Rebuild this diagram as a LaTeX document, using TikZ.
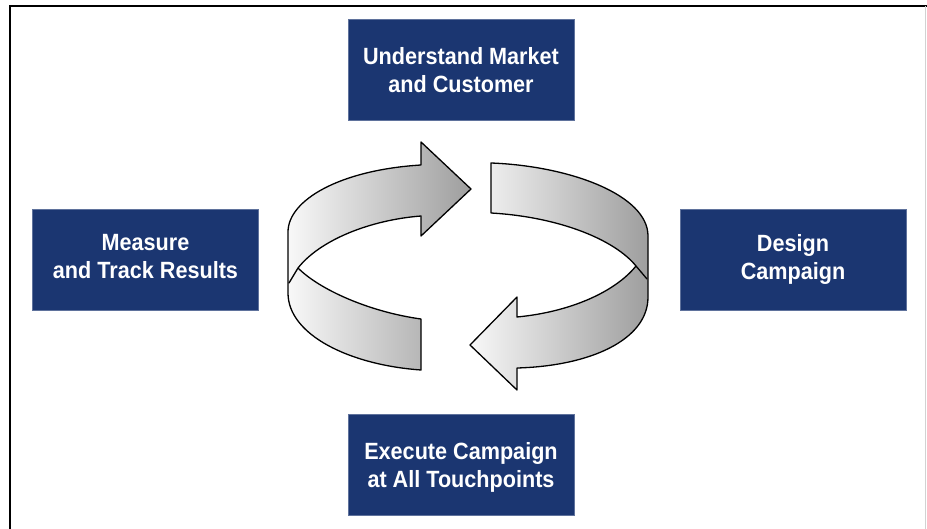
\documentclass[tikz,border=0pt]{standalone}
\usepackage{fontspec}
\newfontfamily\boxfont[FakeStretch=0.92]{Liberation Sans}
\definecolor{navy}{RGB}{27,54,113}
\definecolor{lightg}{RGB}{248,248,248}
\definecolor{darkg}{RGB}{158,158,158}
\begin{document}
\begin{tikzpicture}[x=1pt,y=-1pt,
  stepbox/.style={fill=navy, draw=navy!70!white, line width=0.6pt,
    minimum width=226pt, minimum height=101pt, inner sep=0pt,
    text=white, align=center, text depth=0pt,
    font=\boxfont\bfseries\fontsize{23.5}{28}\selectfont},
  sidebox/.style={stepbox, text depth=6pt},
  ribbon/.style={draw=black, line width=1.3pt, line join=round,
    left color=lightg, right color=darkg},
  edgeline/.style={draw=black, line width=1.3pt, line cap=round}]
\useasboundingbox (0,0) rectangle (927,529);
\fill[white] (0,0) rectangle (927,529);
\draw[line width=2pt] (10,529) -- (10,6) -- (927,6);
\draw[gray!35, line width=0.8pt] (925.5,6) -- (925.5,529);

\node[stepbox] (understand) at (461,70) {Understand Market\\and Customer};
\node[sidebox] (measure) at (145.5,259.5) {Measure\\and Track Results};
\node[sidebox] (design) at (793,259.5) {Design\\Campaign};
\node[stepbox] (execute) at (461,465) {Execute Campaign\\at All Touchpoints};

% left (upper) ribbon arrow
\path[ribbon] (421,370) -- (421,319)
  .. controls (370,312) and (320,290) .. (298,268)
  .. controls (320,240) and (370,220) .. (421,216)
  -- (421,236) -- (471,189) -- (421,142) -- (421,165)
  .. controls (340,170) and (288,200) .. (288,232)
  -- (288,293)
  .. controls (288,335) and (350,365) .. (421,370) -- cycle;
\draw[edgeline] (298,268) -- (289,283);

% right (lower) ribbon arrow
\path[ribbon] (491,163) -- (491,213)
  .. controls (560,217) and (615,240) .. (636,266)
  .. controls (615,292) and (570,312) .. (517,317)
  -- (517,297) -- (470,345) -- (517,390) -- (517,368)
  .. controls (590,366) and (648,340) .. (648,297)
  -- (648,236)
  .. controls (648,195) and (570,166) .. (491,163) -- cycle;
\draw[edgeline] (636,266) -- (647,279);
\end{tikzpicture}
\end{document}
